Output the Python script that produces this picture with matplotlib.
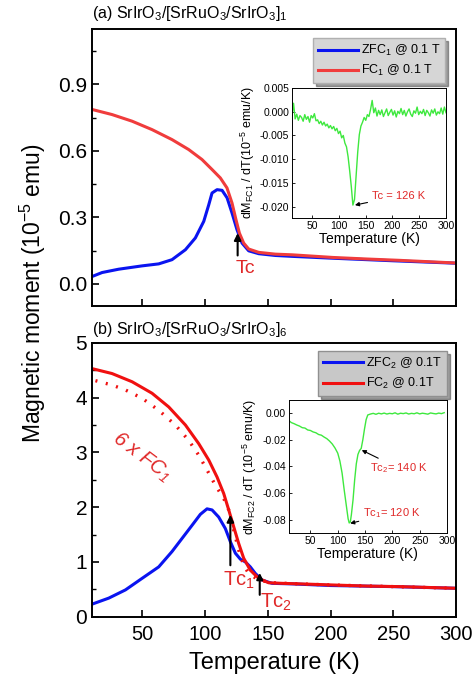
import matplotlib
matplotlib.use("Agg")
import matplotlib.pyplot as plt
from matplotlib.ticker import MultipleLocator, FormatStrFormatter

plt.rcParams['font.family'] = ['Liberation Sans', 'DejaVu Sans']
plt.rcParams['mathtext.fontset'] = 'custom'
plt.rcParams['mathtext.rm'] = 'Liberation Sans'
plt.rcParams['mathtext.it'] = 'Liberation Sans:italic'
plt.rcParams['mathtext.bf'] = 'Liberation Sans:bold'
plt.rcParams['axes.unicode_minus'] = False

# ---------------------------------------------------------------------------
# (a) single bilayer: ZFC / FC moment (1e-5 emu)
# ---------------------------------------------------------------------------
T_fc1 = [10, 25.9, 41.9, 57.8, 73.7, 87, 97.6, 105.6, 112.2, 117.5, 121.5,
         124.7, 127.4, 130.8, 134.8, 142.8, 156, 169.3, 202, 229, 255, 300]
M_fc1 = [0.787, 0.764, 0.734, 0.696, 0.651, 0.606, 0.561, 0.516, 0.478, 0.433,
         0.365, 0.289, 0.229, 0.184, 0.157, 0.142, 0.134, 0.131, 0.119, 0.112,
         0.106, 0.094]

T_zfc1 = [10, 18, 31.2, 49.8, 63.1, 73.7, 84.4, 92.3, 99, 103, 105.6, 109.6,
          113.6, 117.6, 121.5, 125.5, 129.5, 134.8, 142.8, 156, 169.3, 200,
          250, 300]
M_zfc1 = [0.033, 0.051, 0.066, 0.081, 0.090, 0.109, 0.154, 0.207, 0.282, 0.357,
          0.41, 0.425, 0.422, 0.388, 0.32, 0.244, 0.184, 0.149, 0.136, 0.128,
          0.124, 0.116, 0.104, 0.093]

# inset (a): dM_FC1/dT
T_d1 = [12, 15, 18, 21, 24, 27, 30, 33, 36, 39, 42, 45, 48, 51, 54, 57, 60, 63,
        66, 69, 72, 75, 78, 81, 84, 87, 90, 93, 96, 99, 102, 105, 108, 111, 114,
        117, 120, 123, 126, 129, 132, 135, 138, 141, 144, 147, 150, 153, 156,
        159, 162, 165, 168, 171, 174, 177, 180, 183, 186, 189, 192, 195, 198,
        201, 204, 207, 210, 213, 216, 219, 222, 225, 228, 231, 234, 237, 240,
        243, 246, 249, 252, 255, 258, 261, 264, 267, 270, 273, 276, 279, 282,
        285, 288, 291, 294, 297, 300]
D_1 = [-0.0010, 0.0018, -0.0015, -0.0005, -0.0018, -0.0008, -0.0012, -0.0020,
       -0.0006, -0.0016, -0.0010, -0.0022, -0.0008, -0.0013, -0.0004, -0.0019,
       -0.0017, -0.0025, -0.0020, -0.0028, -0.0022, -0.0030, -0.0026, -0.0034,
       -0.0029, -0.0036, -0.0031, -0.0040, -0.0035, -0.0046, -0.0041, -0.0055,
       -0.0050, -0.0066, -0.0074, -0.0095, -0.0125, -0.0158, -0.0197, -0.0185,
       -0.0135, -0.0085, -0.0048, -0.0030, -0.0022, -0.0012, -0.0018, -0.0006,
       -0.0010, 0.0005, 0.0024, -0.0002, 0.0008, -0.0009, 0.0003, -0.0006,
       0.0004, -0.0010, -0.0002, 0.0006, -0.0008, -0.0001, 0.0005, -0.0007,
       0.0002, -0.0011, 0.0001, -0.0004, 0.0007, -0.0006, 0.0003, -0.0009,
       0.0000, 0.0006, -0.0005, -0.0010, 0.0002, -0.0003, 0.0010, -0.0006,
       0.0001, -0.0004, 0.0005, -0.0008, 0.0003, -0.0002, -0.0009, 0.0004,
       -0.0003, 0.0006, -0.0007, 0.0000, -0.0004, 0.0008, -0.0005, 0.0010,
       -0.0002]

# ---------------------------------------------------------------------------
# (b) six bilayers
# ---------------------------------------------------------------------------
T_fc2 = [10, 25.9, 41.9, 57.8, 71.1, 84.4, 95, 103, 109.6, 114.9, 118.9, 122.9,
         126.8, 130.8, 136.1, 142.8, 150.7, 161.4, 175.7, 202, 229, 255, 300]
M_fc2 = [4.53, 4.44, 4.29, 4.08, 3.83, 3.50, 3.16, 2.86, 2.55, 2.25, 1.95, 1.64,
         1.34, 1.07, 0.85, 0.70, 0.62, 0.61, 0.60, 0.58, 0.56, 0.55, 0.52]

T_6fc1 = [12.7, 25.9, 36.6, 49.8, 63.1, 76.4, 87, 95, 101.6, 108.3, 114.9,
          118.9, 122.9, 126.8, 130.8, 134.8, 142.8, 153.4, 175, 200, 250, 300]
M_6fc1 = [4.31, 4.23, 4.14, 3.99, 3.77, 3.50, 3.22, 2.95, 2.68, 2.40, 2.16,
          1.95, 1.58, 1.22, 0.94, 0.79, 0.67, 0.62, 0.60, 0.58, 0.55, 0.52]

T_zfc2 = [10, 23.3, 36.6, 49.8, 63.1, 73.7, 81.7, 89.7, 96.3, 101.6, 105.6,
          110.9, 116.2, 120.2, 124.2, 128.2, 132.2, 136.1, 140.1, 145.4, 153.4,
          169.3, 200, 250, 300]
M_zfc2 = [0.23, 0.34, 0.49, 0.70, 0.91, 1.19, 1.43, 1.67, 1.87, 1.97, 1.95,
          1.82, 1.61, 1.37, 1.16, 1.05, 1.00, 0.91, 0.79, 0.67, 0.61, 0.60,
          0.57, 0.55, 0.52]

# inset (b): dM_FC2/dT
T_d2 = [10, 15, 20, 25, 30, 35, 40, 45, 50, 55, 60, 65, 70, 75, 80, 85, 90, 95,
        100, 104, 108, 112, 116, 119, 121, 123, 125, 128, 131, 134, 137, 140,
        143, 146, 149, 152, 155, 160, 165, 170, 175, 180, 185, 190, 195, 200,
        205, 210, 215, 220, 225, 230, 235, 240, 245, 250, 255, 260, 265, 270,
        275, 280, 285, 290, 295]
D_2 = [-0.0055, -0.0072, -0.0080, -0.0090, -0.0098, -0.0110, -0.0113, -0.0127,
       -0.0131, -0.0142, -0.0148, -0.0161, -0.0166, -0.0180, -0.0192, -0.0210,
       -0.0232, -0.0262, -0.0300, -0.0360, -0.0450, -0.0580, -0.0700, -0.0790,
       -0.0822, -0.0815, -0.0760, -0.0650, -0.0500, -0.0380, -0.0310, -0.0280,
       -0.0265, -0.0200, -0.0120, -0.0050, -0.0015, -0.0008, -0.0003, -0.0010,
       -0.0002, -0.0007, -0.0001, -0.0008, -0.0003, -0.0006, 0.0001, -0.0009,
       -0.0002, -0.0005, 0.0000, -0.0008, -0.0003, -0.0006, 0.0001, -0.0007,
       -0.0002, -0.0005, -0.0009, 0.0000, -0.0004, -0.0007, -0.0001, -0.0005,
       0.0002]

BLUE = '#0a14f0'
RED1 = '#f03c3c'
RED2 = '#f01010'
TXT_RED = '#e02828'
GREEN = '#3ee83e'

fig = plt.figure(figsize=(4.77, 6.83), dpi=100)


def style_main(ax):
    ax.tick_params(which='both', direction='in', top=False, right=False)
    ax.tick_params(which='major', length=5, width=1.2, labelsize=15)
    ax.tick_params(which='minor', length=3, width=1.0)
    for s in ax.spines.values():
        s.set_linewidth(1.4)


def style_inset(ax):
    ax.tick_params(which='both', direction='in', top=False, right=False,
                   length=2.5, width=0.6, labelsize=7.5, pad=2)
    for s in ax.spines.values():
        s.set_linewidth(0.7)


# ── panel (a) ───────────────────────────────────────────────────────────────
ax1 = fig.add_axes([0.193, 0.552, 0.763, 0.4055])
ax1.plot(T_zfc1, M_zfc1, color=BLUE, lw=2.2, label=r'ZFC$_{\mathregular{1}}$ @ 0.1 T')
ax1.plot(T_fc1, M_fc1, color=RED1, lw=2.2, label=r'FC$_{\mathregular{1}}$ @ 0.1 T')
ax1.set_xlim(10, 300)
ax1.set_ylim(-0.1, 1.15)
ax1.xaxis.set_major_locator(MultipleLocator(50))
ax1.yaxis.set_major_locator(MultipleLocator(0.3))
ax1.yaxis.set_minor_locator(MultipleLocator(0.15))
ax1.yaxis.set_major_formatter(FormatStrFormatter('%.1f'))
style_main(ax1)
ax1.tick_params(axis='x', labelbottom=False)
ax1.text(0.0, 1.02, r'(a) SrIrO$_{\mathregular{3}}$/[SrRuO$_{\mathregular{3}}$/SrIrO$_{\mathregular{3}}$]$_{\mathregular{1}}$',
         transform=ax1.transAxes, fontsize=11.5, ha='left', va='bottom')
leg1 = ax1.legend(loc='upper right', bbox_to_anchor=(0.970, 0.9675),
                  borderaxespad=0, fontsize=9, handlelength=3.2,
                  handletextpad=0.2, labelspacing=0.4, fancybox=False,
                  shadow=True, framealpha=1, facecolor='#d6d6d6',
                  edgecolor='#b0b0b0')
ax1.annotate('', xy=(126, 0.229), xytext=(126, 0.128),
             arrowprops=dict(arrowstyle='-|>', color='black', lw=1.5,
                             mutation_scale=10, shrinkA=0, shrinkB=0))
ax1.text(131.9, 0.071, 'Tc', color=TXT_RED, fontsize=14, ha='center', va='center')

in1 = fig.add_axes([0.612, 0.681, 0.323, 0.190])
in1.plot(T_d1, D_1, color=GREEN, lw=1.0)
in1.set_xlim(12, 300)
in1.set_ylim(-0.0224, 0.005)
in1.xaxis.set_major_locator(MultipleLocator(50))
in1.yaxis.set_major_locator(MultipleLocator(0.005))
in1.yaxis.set_major_formatter(FormatStrFormatter('%.3f'))
style_inset(in1)
in1.set_xlabel('Temperature (K)', fontsize=10, labelpad=1)
in1.set_ylabel(r'dM$_{\mathregular{FC1}}$ / dT(10$^{\mathregular{-5}}$ emu/K)',
               fontsize=9, labelpad=2)
in1.annotate('Tc = 126 K', xy=(129.8, -0.0197), xytext=(161, -0.0178),
             color=TXT_RED, fontsize=8, va='center',
             arrowprops=dict(arrowstyle='-|>', color='black', lw=0.8,
                             mutation_scale=6, shrinkA=1, shrinkB=0))

# ── panel (b) ───────────────────────────────────────────────────────────────
ax2 = fig.add_axes([0.193, 0.097, 0.763, 0.401])
ax2.plot(T_zfc2, M_zfc2, color=BLUE, lw=2.2, label=r'ZFC$_{\mathregular{2}}$ @ 0.1T')
ax2.plot(T_fc2, M_fc2, color=RED2, lw=2.2, label=r'FC$_{\mathregular{2}}$ @ 0.1T')
ax2.plot(T_6fc1, M_6fc1, color=RED2, lw=2.4, linestyle=(0, (0.6, 2.6)))
ax2.set_xlim(10, 300)
ax2.set_ylim(0, 5)
ax2.xaxis.set_major_locator(MultipleLocator(50))
ax2.yaxis.set_major_locator(MultipleLocator(1))
ax2.yaxis.set_minor_locator(MultipleLocator(0.5))
style_main(ax2)
ax2.tick_params(axis='x', labelsize=14.5, pad=6)
ax2.set_xlabel('Temperature (K)', fontsize=17, labelpad=6)
ax2.text(0.0, 1.015, r'(b) SrIrO$_{\mathregular{3}}$/[SrRuO$_{\mathregular{3}}$/SrIrO$_{\mathregular{3}}$]$_{\mathregular{6}}$',
         transform=ax2.transAxes, fontsize=11.5, ha='left', va='bottom')
leg2 = ax2.legend(loc='upper right', bbox_to_anchor=(0.975, 0.971),
                  borderaxespad=0, fontsize=9, handlelength=3.2,
                  handletextpad=0.2, labelspacing=0.4, fancybox=False,
                  shadow=True, framealpha=1, facecolor='#c8c8c8',
                  edgecolor='#909090')
ax2.text(49.6, 2.92, r'6 x FC$_{\mathregular{1}}$', color=TXT_RED, fontsize=14.5,
         style='italic', rotation=-37, ha='center', va='center')
ax2.annotate('', xy=(120.2, 1.86), xytext=(120.2, 0.94),
             arrowprops=dict(arrowstyle='-|>', color='black', lw=1.5,
                             mutation_scale=10, shrinkA=0, shrinkB=0))
ax2.text(114.5, 0.67, r'Tc$_{\mathregular{1}}$', color=TXT_RED, fontsize=14.5,
         ha='left', va='center')
ax2.annotate('', xy=(143.6, 0.80), xytext=(143.6, 0.40),
             arrowprops=dict(arrowstyle='-|>', color='black', lw=1.5,
                             mutation_scale=9, shrinkA=0, shrinkB=0))
ax2.text(143.8, 0.27, r'Tc$_{\mathregular{2}}$', color=TXT_RED, fontsize=14.5,
         ha='left', va='center')

in2 = fig.add_axes([0.605, 0.22, 0.332, 0.194])
in2.plot(T_d2, D_2, color=GREEN, lw=1.0)
in2.set_xlim(10, 300)
in2.set_ylim(-0.0895, 0.0095)
in2.xaxis.set_major_locator(MultipleLocator(50))
in2.yaxis.set_major_locator(MultipleLocator(0.02))
in2.yaxis.set_major_formatter(FormatStrFormatter('%.2f'))
style_inset(in2)
in2.set_xlabel('Temperature (K)', fontsize=10, labelpad=1)
in2.set_ylabel(r'dM$_{\mathregular{FC2}}$ / dT (10$^{\mathregular{-5}}$ emu/K)',
               fontsize=9, labelpad=2)
in2.annotate(r'Tc$_{\mathregular{2}}$= 140 K', xy=(144, -0.0278), xytext=(160, -0.0415),
             color=TXT_RED, fontsize=8, va='center',
             arrowprops=dict(arrowstyle='-|>', color='black', lw=0.8,
                             mutation_scale=6, shrinkA=1, shrinkB=0))
in2.annotate(r'Tc$_{\mathregular{1}}$= 120 K', xy=(122.8, -0.0825), xytext=(146, -0.075),
             color=TXT_RED, fontsize=8, va='center',
             arrowprops=dict(arrowstyle='-|>', color='black', lw=0.8,
                             mutation_scale=6, shrinkA=1, shrinkB=0))

fig.text(0.068, 0.57, r'Magnetic moment (10$^{\mathregular{-5}}$ emu)', fontsize=16.5,
         rotation=90, ha='center', va='center')

fig.savefig('out.png', dpi=100)
